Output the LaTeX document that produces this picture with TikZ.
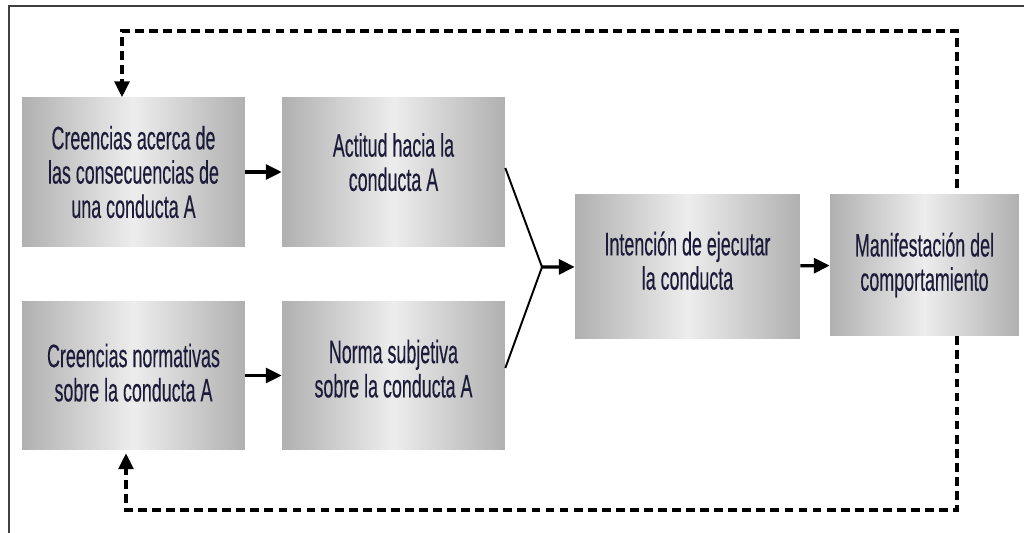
\documentclass[tikz,border=0pt]{standalone}
\usepackage{fontspec}
\setmainfont[FakeStretch=0.55,FakeBold=0.3]{Liberation Sans}
\usetikzlibrary{arrows.meta,positioning}

\definecolor{boxedge}{HTML}{B0B0B0}
\definecolor{boxmid}{HTML}{EDEDED}
\definecolor{boxtext}{HTML}{1C1C3A}

% extra depth under the last line, to lift a text inside its box
\newcommand{\liftby}[1]{\rule[-#1]{0pt}{0pt}}

\tikzset{
    box/.style={minimum width=4.46cm, minimum height=2.98cm, inner sep=0pt,
        left color=boxedge, right color=boxedge, middle color=boxmid,
        align=center, text=boxtext, font=\fontsize{18.5}{19.5}\selectfont},
    flow/.style={line width=1.8pt, -{Triangle[length=9pt,width=8.5pt]}},
    merge/.style={line width=1.1pt},
    feedback/.style={line width=1.8pt, dash pattern=on 5pt off 3pt,
        -{Triangle[length=9pt,width=8.5pt]}}
}

\begin{document}
\begin{tikzpicture}[x=0.02cm, y=-0.02cm]
    \useasboundingbox (0,0) rectangle (1024,533);
    % Outer frame
    \draw [line width=1.1pt, black!75] (1024,6) -| (9,533);

    % Boxes
    \node [box] (creencias) at (133.5,172) {Creencias acerca de\\las consecuencias de\\una conducta A};
    \node [box] (actitud) at (393.5,172) {Actitud hacia la\\conducta A\liftby{0.4cm}};
    \node [box] (normativas) at (133.5,375.5) {Creencias normativas\\sobre la conducta A\liftby{0.12cm}};
    \node [box] (norma) at (393.5,375.5) {Norma subjetiva\\sobre la conducta A\liftby{0.28cm}};
    \node [box, minimum width=4.5cm, minimum height=2.88cm] (intencion) at (687.5,266.5) {Intención de ejecutar\\la conducta\liftby{0.24cm}};
    \node [box, minimum width=3.78cm, minimum height=2.84cm] (manifest) at (924.5,265) {Manifestación del\\comportamiento};

    % Junction and feedback corners
    \coordinate (join) at (542,267);
    \coordinate (fbtop) at (122,31);
    \coordinate (fbbot) at (126,510);
    \coordinate (fbx) at (957,0);

    % Solid arrows
    \draw [flow] (creencias) -- (actitud);
    \draw [flow] (normativas) -- (norma);
    \draw [merge] ([yshift=0.08cm]actitud.east) -- (join);
    \draw [merge] ([yshift=0.15cm]norma.east) -- (join);
    \draw [flow] (join) -- (intencion);
    \draw [flow] (intencion) -- (manifest);

    % Feedback loops
    \draw [feedback] ([yshift=0.12cm]manifest.north -| fbx) |- (fbtop) -- (fbtop |- creencias.north);
    \draw [feedback] (manifest.south -| fbx) |- (fbbot) -- ([yshift=-0.06cm]fbbot |- normativas.south);
\end{tikzpicture}
\end{document}
